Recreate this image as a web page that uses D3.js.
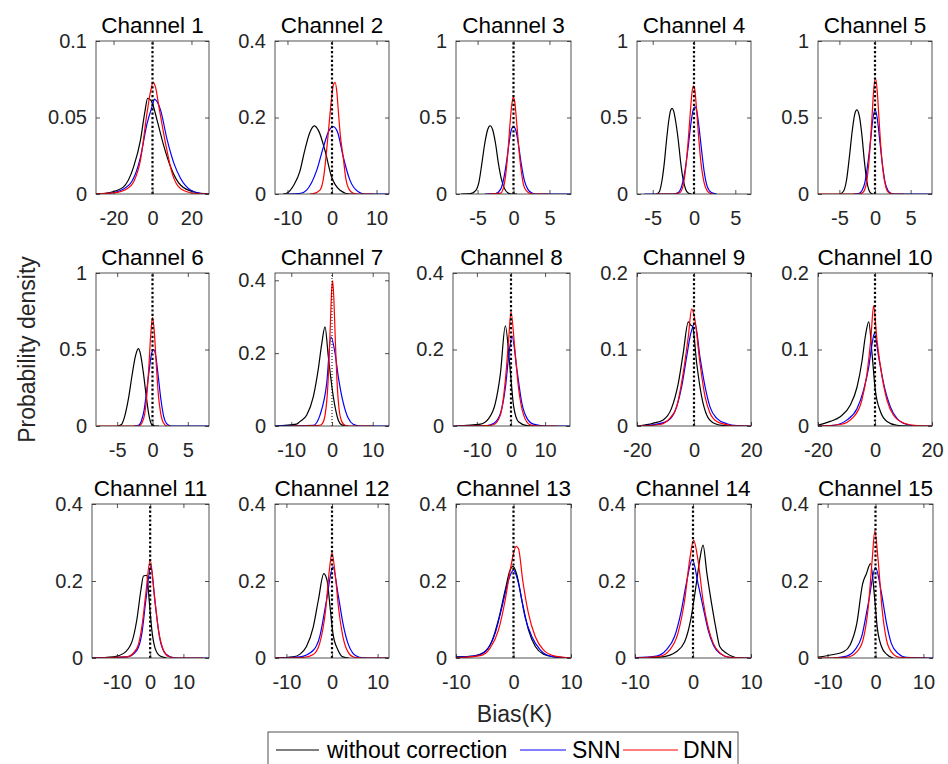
<!DOCTYPE html>
<html>
<head>
<meta charset="utf-8">
<script src="https://d3js.org/d3.v7.min.js"></script>
<style>
  body { margin: 0; background: #fff; }
  svg { display: block; font-family: "Liberation Sans", Arial, Helvetica, sans-serif; }
</style>
</head>
<body>
<div id="chart"></div>
<script>
// ---- data ----
const channelNames = d3.range(1, 16).map(i => "Channel " + i);
const seriesNames = ["without correction", "SNN", "DNN"];
const seriesColors = ["#000000", "#0000ff", "#ff0000"];

const xLimits = [
  [-29, 29], [-12.8, 12.8], [-8, 8], [-6.9, 6.9], [-8, 8],
  [-8, 8], [-14, 14], [-17, 17.3], [-20, 20], [-20, 20],
  [-17.5, 17.7], [-12.5, 12.5], [-10, 10], [-10, 10], [-12, 12]
];
const yLimits = [0.1, 0.4, 1, 1, 1, 1, 0.42, 0.4, 0.2, 0.2, 0.4, 0.4, 0.4, 0.4, 0.4];
const xTickValues = [
  [-20, 0, 20], [-10, 0, 10], [-5, 0, 5], [-5, 0, 5], [-5, 0, 5],
  [-5, 0, 5], [-10, 0, 10], [-10, 0, 10], [-20, 0, 20], [-20, 0, 20],
  [-10, 0, 10], [-10, 0, 10], [-10, 0, 10], [-10, 0, 10], [-10, 0, 10]
];
const yTickValues = [
  [0, 0.05, 0.1], [0, 0.2, 0.4], [0, 0.5, 1], [0, 0.5, 1], [0, 0.5, 1],
  [0, 0.5, 1], [0, 0.2, 0.4], [0, 0.2, 0.4], [0, 0.1, 0.2], [0, 0.1, 0.2],
  [0, 0.2, 0.4], [0, 0.2, 0.4], [0, 0.2, 0.4], [0, 0.2, 0.4], [0, 0.2, 0.4]
];

// without correction
const rawCurves = [
  [[-29,0],[-22,0.001],[-15,0.0045],[-9.7,0.0177],[-6.2,0.035],[-4,0.053],[-2.5,0.0625],[-1,0.0615],[0,0.059],[2.4,0.048],[5.9,0.031],[9.3,0.0177],[14.5,0.0057],[21.4,0.0013],[29,0]],
  [[-11,0],[-10.2,0.002],[-8.5,0.025],[-7.2,0.06],[-6.2,0.11],[-5,0.16],[-4,0.178],[-3,0.165],[-1.6,0.115],[-0.1,0.045],[1.8,0.01],[4,0],[5,0]],
  [[-7.3,0],[-6,0.002],[-5.3,0.02],[-4.8,0.08],[-4.4,0.2],[-4,0.33],[-3.6,0.42],[-3.25,0.446],[-2.9,0.42],[-2.5,0.33],[-2.1,0.2],[-1.7,0.1],[-1.3,0.04],[-0.8,0.008],[-0.3,0],[0.5,0]],
  [[-4.55,0],[-4.2,0.015],[-3.9,0.08],[-3.6,0.2],[-3.33,0.35],[-3,0.5],[-2.8,0.55],[-2.64,0.56],[-2.45,0.54],[-2.3,0.5],[-1.9,0.35],[-1.6,0.2],[-1.3,0.09],[-1,0.03],[-0.7,0.006],[-0.3,0]],
  [[-4.9,0],[-4.4,0.02],[-4,0.09],[-3.6,0.24],[-3.2,0.41],[-2.85,0.52],[-2.54,0.55],[-2.2,0.51],[-1.85,0.39],[-1.5,0.22],[-1.17,0.09],[-0.85,0.025],[-0.5,0.003],[-0.25,0]],
  [[-4.9,0],[-4.4,0.01],[-3.9,0.07],[-3.4,0.18],[-2.9,0.33],[-2.4,0.46],[-2,0.506],[-1.7,0.47],[-1.3,0.35],[-0.9,0.2],[-0.5,0.07],[-0.1,0.01],[0.4,0],[0.9,0]],
  [[-13.9,0],[-8.7,0.005],[-7.9,0.012],[-6.2,0.03],[-4.6,0.08],[-3.4,0.154],[-2.5,0.227],[-1.72,0.272],[-0.9,0.19],[0.33,0.08],[1.55,0.016],[2.4,0.003],[3.5,0]],
  [[-16.2,0],[-8.9,0.005],[-6.5,0.02],[-4.6,0.059],[-3.1,0.137],[-1.65,0.262],[-0.4,0.163],[0.8,0.05],[2.2,0.011],[4.7,0.001],[6.6,0]],
  [[-19.6,0],[-14.4,0.0035],[-10.8,0.008],[-7.9,0.023],[-5.5,0.056],[-3.8,0.095],[-2,0.136],[-1.2,0.132],[-0.5,0.13],[0.94,0.082],[2.7,0.038],[4.5,0.014],[6.8,0.004],[10.4,0.0005],[14,0]],
  [[-20,0.001],[-15.7,0.006],[-12.2,0.012],[-8.7,0.027],[-6.3,0.051],[-4.6,0.084],[-3.4,0.117],[-2.2,0.136],[-1.05,0.095],[0.1,0.047],[1.9,0.019],[4.2,0.006],[7.7,0.001],[12,0]],
  [[-17.5,0],[-11,0.003],[-8,0.012],[-5.5,0.042],[-4,0.1],[-2.8,0.176],[-2,0.213],[-1,0.215],[-0.3,0.15],[0.5,0.073],[1.5,0.025],[3,0.005],[5,0]],
  [[-12.4,0],[-8.5,0.003],[-7,0.01],[-5.6,0.03],[-4.1,0.081],[-3,0.15],[-1.8,0.219],[-1.1,0.202],[-0.35,0.124],[0.2,0.064],[1.3,0.021],[2.4,0.003],[3.8,0]],
  [[-10,0.003],[-7,0.005],[-5.2,0.014],[-3.8,0.042],[-2.6,0.1],[-1.45,0.176],[-0.6,0.228],[-0.1,0.238],[0.6,0.215],[1.45,0.15],[2.6,0.073],[3.8,0.03],[5.2,0.01],[7,0.003],[8.8,0]],
  [[-10,0],[-5.2,0.003],[-2.9,0.016],[-1.44,0.042],[-0.3,0.107],[0.58,0.194],[1.15,0.254],[1.73,0.293],[2.4,0.219],[3.2,0.142],[4,0.073],[4.6,0.03],[5.8,0.012],[7.2,0.002],[8,0]],
  [[-12,0.002],[-8.8,0.009],[-6.7,0.016],[-5.3,0.034],[-3.9,0.09],[-2.7,0.192],[-1.9,0.219],[-1.04,0.245],[-0.14,0.15],[0.35,0.081],[1.25,0.03],[2.3,0.01],[3.7,0]]
];

// SNN
const snnCurves = [
  [[-29,0],[-20,0.001],[-12,0.006],[-6.2,0.024],[-2.8,0.046],[0,0.058],[1,0.062],[2,0.061],[4.1,0.055],[7.6,0.035],[11,0.02],[14.5,0.01],[19.7,0.0024],[24,0.0005],[29,0]],
  [[-10.2,0],[-7,0.002],[-5.7,0.01],[-3.4,0.063],[-1.9,0.124],[-0.7,0.165],[0.3,0.176],[1.3,0.16],[2.5,0.098],[4,0.037],[5.9,0.006],[7.5,0],[12.8,0]],
  [[-4,0],[-2.5,0.003],[-1.8,0.03],[-1.4,0.09],[-1,0.2],[-0.6,0.34],[-0.3,0.42],[0,0.44],[0.3,0.42],[0.7,0.32],[1.1,0.19],[1.5,0.09],[2,0.03],[2.6,0.006],[3,0],[8,0]],
  [[-6,0],[-2.5,0],[-1.9,0.01],[-1.5,0.05],[-1.1,0.15],[-0.7,0.31],[-0.35,0.47],[-0.1,0.55],[0.12,0.57],[0.35,0.54],[0.6,0.44],[0.93,0.28],[1.25,0.14],[1.6,0.05],[2.1,0.01],[2.76,0]],
  [[-3,0],[-2.3,0.003],[-1.8,0.025],[-1.4,0.08],[-1,0.2],[-0.6,0.36],[-0.3,0.49],[0,0.55],[0.3,0.5],[0.6,0.38],[1,0.21],[1.4,0.08],[1.8,0.025],[2.3,0.003],[2.6,0],[8,0]],
  [[-2.6,0],[-2,0.005],[-1.6,0.03],[-1.2,0.1],[-0.8,0.24],[-0.4,0.39],[-0.1,0.48],[0.18,0.5],[0.45,0.46],[0.8,0.33],[1.2,0.17],[1.6,0.06],[2,0.015],[2.6,0],[8,0]],
  [[-14,0],[-4.6,0.002],[-2.95,0.03],[-1.3,0.117],[-0.25,0.245],[0.74,0.2],[1.55,0.135],[2.8,0.062],[4,0.021],[5.2,0.005],[7,0],[14,0]],
  [[-17,0],[-7,0.001],[-5,0.007],[-3.1,0.033],[-1.65,0.1],[-0.7,0.18],[0.3,0.235],[1.75,0.146],[3.2,0.059],[4.7,0.02],[6.6,0.005],[10.5,0],[17.3,0]],
  [[-20,0],[-14.4,0.0015],[-9.6,0.006],[-6.7,0.019],[-4.35,0.051],[-2.6,0.09],[-1.2,0.12],[0.35,0.134],[2.1,0.09],[3.9,0.051],[5.6,0.025],[8,0.01],[11.5,0.003],[15,0.0005],[20,0]],
  [[-20,0],[-14.5,0.001],[-9.8,0.008],[-6.3,0.023],[-4,0.047],[-2.2,0.077],[-1,0.108],[-0.2,0.121],[1.3,0.09],[3,0.056],[5.4,0.025],[7.7,0.01],[11.2,0.002],[15,0],[20,0]],
  [[-17.5,0],[-7,0.003],[-4,0.02],[-2.5,0.064],[-1.3,0.15],[0.2,0.238],[1.5,0.142],[2.8,0.055],[4.2,0.016],[6,0.003],[8,0],[17.7,0]],
  [[-12.4,0],[-7,0.003],[-4.1,0.02],[-2.7,0.055],[-1.2,0.15],[0.2,0.237],[1.3,0.168],[2.4,0.09],[3.5,0.038],[4.6,0.012],[6,0.002],[8,0],[12.4,0]],
  [[-10,0.002],[-6.4,0.006],[-4.65,0.021],[-3.2,0.064],[-2,0.133],[-0.87,0.202],[0,0.228],[0.87,0.194],[2,0.107],[3.2,0.055],[4.65,0.021],[6.4,0.005],[10,0]],
  [[-10,0.001],[-6.3,0.005],[-4.6,0.021],[-3.2,0.055],[-2,0.124],[-1.15,0.194],[-0.1,0.256],[0.86,0.194],[1.73,0.133],[2.6,0.073],[3.5,0.034],[4.6,0.012],[6.3,0.002],[10,0]],
  [[-8.8,0],[-6,0.005],[-4.3,0.021],[-2.9,0.055],[-1.5,0.142],[0,0.235],[1.25,0.168],[2.3,0.09],[3.3,0.038],[4.7,0.012],[6.4,0.002],[12,0]]
];

// DNN
const dnnCurves = [
  [[-29,0],[-20,0.0007],[-13,0.0035],[-9.7,0.0079],[-6.2,0.022],[-2.8,0.053],[-1,0.067],[0.3,0.073],[1.5,0.07],[3.3,0.057],[6.7,0.033],[10.2,0.013],[14.5,0.0035],[21.4,0.0005],[29,0]],
  [[-5,0],[-4.2,0.001],[-2.7,0.01],[-1.8,0.05],[-1.2,0.115],[-0.6,0.19],[-0.1,0.25],[0.3,0.285],[0.7,0.292],[1.1,0.265],[1.4,0.22],[1.9,0.15],[2.5,0.098],[3.1,0.04],[3.7,0.015],[4.8,0.002],[6,0],[9.4,0]],
  [[-3.5,0],[-1.8,0.006],[-1.4,0.04],[-1.1,0.12],[-0.8,0.26],[-0.5,0.45],[-0.25,0.58],[-0.05,0.632],[0.15,0.61],[0.4,0.49],[0.7,0.32],[1,0.18],[1.4,0.06],[1.8,0.02],[2.4,0.003],[3,0],[4.8,0]],
  [[-4.55,0],[-2.3,0],[-1.7,0.01],[-1.3,0.06],[-1,0.17],[-0.7,0.35],[-0.45,0.53],[-0.25,0.66],[-0.08,0.707],[0.1,0.68],[0.3,0.56],[0.55,0.38],[0.85,0.2],[1.2,0.08],[1.6,0.02],[2,0.003],[2.3,0]],
  [[-8,0],[-2.2,0],[-1.7,0.01],[-1.3,0.05],[-1,0.14],[-0.7,0.3],[-0.45,0.48],[-0.2,0.67],[0.05,0.757],[0.3,0.68],[0.55,0.5],[0.8,0.32],[1.1,0.16],[1.5,0.05],[1.9,0.01],[2.5,0],[4,0]],
  [[-7.8,0],[-2,0],[-1.5,0.02],[-1.1,0.08],[-0.8,0.2],[-0.5,0.4],[-0.25,0.6],[0,0.71],[0.25,0.62],[0.5,0.43],[0.8,0.22],[1.1,0.1],[1.5,0.025],[2.1,0],[2.5,0]],
  [[-10.3,0],[-2.95,0.002],[-2.2,0.01],[-1.7,0.03],[-1.2,0.08],[-0.8,0.16],[-0.4,0.28],[-0.1,0.37],[0.16,0.399],[0.45,0.35],[0.8,0.24],[1.2,0.13],[1.7,0.05],[2.3,0.015],[3.2,0.002],[4.5,0],[10,0]],
  [[-16.2,0],[-7,0.001],[-5,0.004],[-3.1,0.029],[-1.65,0.12],[-0.7,0.224],[0,0.298],[1.07,0.207],[2.2,0.1],[3.7,0.029],[5.6,0.003],[8,0],[13.4,0]],
  [[-19.6,0],[-12,0.002],[-8.5,0.01],[-6.1,0.025],[-3.8,0.069],[-2,0.117],[-0.8,0.153],[0.35,0.138],[2.1,0.082],[3.9,0.038],[5.6,0.017],[8,0.006],[12.7,0.001],[16,0],[20,0]],
  [[-20,0],[-12.2,0.002],[-7.5,0.012],[-4.6,0.034],[-2.8,0.069],[-1.4,0.117],[-0.5,0.157],[0.7,0.112],[2.5,0.064],[4.2,0.034],[6.5,0.014],[10,0.004],[14.7,0.0005],[20,0]],
  [[-17.5,0],[-7,0.003],[-4,0.025],[-2.5,0.081],[-1.3,0.168],[0,0.254],[1.2,0.168],[2.5,0.073],[4,0.02],[5.5,0.004],[8,0],[16,0]],
  [[-12.4,0],[-6,0.002],[-4.1,0.009],[-2.7,0.038],[-1.4,0.124],[-0.5,0.237],[0,0.273],[0.6,0.228],[1.5,0.124],[2.4,0.055],[3.5,0.016],[4.9,0.002],[7,0],[12.4,0]],
  [[-10,0],[-5.8,0.006],[-4.1,0.025],[-2.6,0.073],[-1.45,0.15],[-0.47,0.237],[0.47,0.29],[0.87,0.284],[1.6,0.202],[2.6,0.116],[3.8,0.055],[5.2,0.021],[7.2,0.005],[10,0]],
  [[-10,0],[-5.8,0.004],[-4,0.021],[-2.6,0.064],[-1.44,0.15],[-0.58,0.254],[0.1,0.306],[0.86,0.254],[1.73,0.15],[2.6,0.081],[3.5,0.038],[4.6,0.014],[6.3,0.002],[10,0]],
  [[-12,0],[-6,0.002],[-3.9,0.016],[-2.6,0.047],[-1.5,0.133],[-0.7,0.254],[-0.14,0.33],[0.55,0.254],[1.4,0.124],[2.3,0.047],[3.3,0.016],[5,0.002],[10.6,0]]
];

// ---- layout (pixels) ----
const width = 948, height = 764;
const rowTop = [41, 273, 504];
const rowBottom = [194, 426, 658];
const boxLeft  = [96, 275, 456, 637, 818,  96, 275, 453, 637, 818,  92, 275, 456, 635, 818];
const boxRight = [209, 389, 571, 751, 932, 209, 389, 570, 751, 932, 209, 389, 571, 751, 933];
const zeroLineThin = [false, false, false, false, false, false, true, false, false, false, false, false, false, false, false];
const textColor = "#262626";
const tickFmt = d => String(d);   // plain hyphen minus, like the original

const svg = d3.select("#chart").append("svg")
    .attr("width", width)
    .attr("height", height);
svg.append("rect").attr("width", width).attr("height", height).attr("fill", "#fff");

const allSeries = [rawCurves, snnCurves, dnnCurves];

channelNames.forEach(function (name, i) {
    const row = Math.floor(i / 5);
    const x = d3.scaleLinear().domain(xLimits[i]).range([boxLeft[i], boxRight[i]]);
    const y = d3.scaleLinear().domain([0, yLimits[i]]).range([rowBottom[row], rowTop[row]]);
    const g = svg.append("g").attr("class", "panel");

    const clipId = "clip" + i;
    g.append("clipPath").attr("id", clipId)
        .append("rect")
        .attr("x", x.range()[0]).attr("y", y.range()[1])
        .attr("width", x.range()[1] - x.range()[0])
        .attr("height", y.range()[0] - y.range()[1]);

    // curves
    const line = d3.line()
        .x(d => x(d[0]))
        .y(d => y(d[1]))
        .curve(d3.curveMonotoneX);
    const plot = g.append("g").attr("clip-path", "url(#" + clipId + ")");
    allSeries.forEach(function (series, s) {
        plot.append("path")
            .datum(series[i])
            .attr("fill", "none")
            .attr("stroke", seriesColors[s])
            .attr("stroke-width", 1.2)
            .attr("d", line);
    });

    // dotted zero line
    plot.append("line")
        .attr("x1", x(0)).attr("x2", x(0))
        .attr("y1", y.range()[0]).attr("y2", y.range()[1])
        .attr("stroke", "#000")
        .attr("stroke-width", zeroLineThin[i] ? 1 : 2.2)
        .attr("stroke-dasharray", zeroLineThin[i] ? "1,2" : "2.2,2.2");

    // axes (ticks pointing inward, MATLAB style)
    const xb = g.append("g")
        .attr("transform", `translate(0,${y.range()[0]})`)
        .call(d3.axisBottom(x).tickValues(xTickValues[i]).tickSizeInner(-4).tickSizeOuter(0).tickPadding(17)
            .tickFormat(tickFmt));
    const xt = g.append("g")
        .attr("transform", `translate(0,${y.range()[1]})`)
        .call(d3.axisTop(x).tickValues(xTickValues[i]).tickSizeInner(-4).tickSizeOuter(0).tickFormat(""));
    const yl = g.append("g")
        .attr("transform", `translate(${x.range()[0]},0)`)
        .call(d3.axisLeft(y).tickValues(yTickValues[i]).tickSizeInner(-4).tickSizeOuter(0).tickPadding(9)
            .tickFormat(tickFmt));
    const yr = g.append("g")
        .attr("transform", `translate(${x.range()[1]},0)`)
        .call(d3.axisRight(y).tickValues(yTickValues[i]).tickSizeInner(-4).tickSizeOuter(0).tickFormat(""));

    [xb, xt, yl, yr].forEach(function (ax) {
        ax.select(".domain").remove();
        ax.selectAll(".tick line").attr("stroke", textColor).attr("stroke-width", 0.8);
        ax.selectAll(".tick text")
            .attr("fill", textColor)
            .attr("font-size", "20px")
            .attr("font-family", "Liberation Sans, Arial, sans-serif");
    });

    // box
    g.append("rect")
        .attr("x", x.range()[0]).attr("y", y.range()[1])
        .attr("width", x.range()[1] - x.range()[0])
        .attr("height", y.range()[0] - y.range()[1])
        .attr("fill", "none")
        .attr("stroke", textColor)
        .attr("stroke-width", 0.8);

    // title
    g.append("text")
        .attr("x", (x.range()[0] + x.range()[1]) / 2)
        .attr("y", y.range()[1] - 8)
        .attr("text-anchor", "middle")
        .attr("font-size", "22.5px")
        .attr("fill", "#000")
        .text(name);
});

// shared axis labels
svg.append("text")
    .attr("transform", "translate(34.5,349.5) rotate(-90)")
    .attr("text-anchor", "middle")
    .attr("font-size", "23px")
    .attr("fill", textColor)
    .text("Probability density");

svg.append("text")
    .attr("x", 514.5)
    .attr("y", 722)
    .attr("text-anchor", "middle")
    .attr("font-size", "23px")
    .attr("fill", textColor)
    .text("Bias(K)");

// legend
const legend = svg.append("g");
legend.append("rect")
    .attr("x", 268).attr("y", 732)
    .attr("width", 470).attr("height", 40)
    .attr("fill", "#fff")
    .attr("stroke", textColor)
    .attr("stroke-width", 0.8);
const legendLineX = [[276, 319], [520, 566], [623, 678]];
const legendTextX = [327, 572, 683];
seriesNames.forEach(function (s, k) {
    legend.append("line")
        .attr("x1", legendLineX[k][0]).attr("x2", legendLineX[k][1])
        .attr("y1", 750).attr("y2", 750)
        .attr("stroke", seriesColors[k])
        .attr("stroke-width", 1.2);
    legend.append("text")
        .attr("x", legendTextX[k])
        .attr("y", 758)
        .attr("font-size", "23px")
        .attr("fill", "#000")
        .text(s);
});
</script>
</body>
</html>
